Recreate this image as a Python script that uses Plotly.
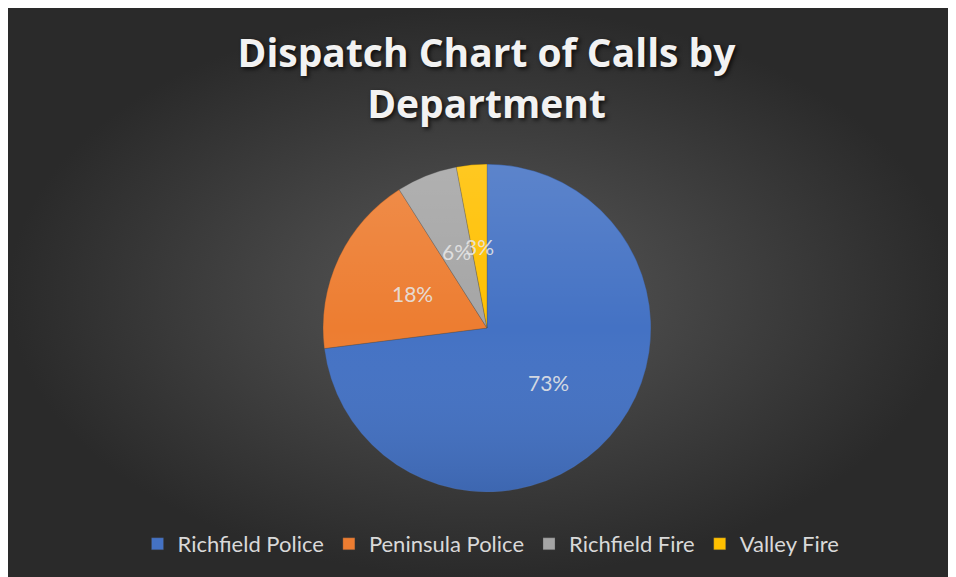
import math
import base64
import plotly.graph_objects as go

# ---- data ----
departments = ["Richfield Police", "Peninsula Police", "Richfield Fire", "Valley Fire"]
calls = [73, 18, 6, 3]
slice_colors = ["#4472C4", "#ED7D31", "#A5A5A5", "#FFC000"]
title_text = "Dispatch Chart of Calls by<br>Department"

# ---- layout constants (pixels, figure coords; page adds an 8px body margin) ----
W, H = 948, 569
CX, CY, R = 479, 320, 164          # pie centre / radius in pixels
LABEL_R = 0.5                       # label radius as fraction of pie radius

fig = go.Figure()

# background radial gradient panel on helper axes (units = pie radius, origin = pie centre)
x0, x1 = (0 - CX) / R, (W - CX) / R
y0, y1 = (CY - H) / R, (CY - 0) / R
fig.add_trace(go.Scatter(
    x=[x0, x1, x1, x0, x0], y=[y0, y0, y1, y1, y0],
    mode="lines", line=dict(width=0), fill="toself",
    fillgradient=dict(type="radial", colorscale=[[0, "#585858"], [1, "#2a2a2a"]]),
    hoverinfo="skip", showlegend=False,
))

fig.add_trace(go.Pie(
    labels=departments, values=calls, sort=False, direction="clockwise", rotation=0,
    marker=dict(colors=slice_colors, line=dict(color="rgba(70,70,70,0.5)", width=0.6)),
    textinfo="none", hoverinfo="label+percent",
    domain=dict(x=[(CX - R) / W, (CX + R) / W], y=[1 - (CY + R) / H, 1 - (CY - R) / H]),
))

# subtle vertical sheen over the pie (lighter at top, darker at bottom), like the original style
sheen_svg = (
    '<svg xmlns="http://www.w3.org/2000/svg" viewBox="0 0 100 100" preserveAspectRatio="none">'
    '<defs><linearGradient id="g" x1="0" y1="0" x2="0" y2="1">'
    '<stop offset="0" stop-color="#ffffff" stop-opacity="0.13"/>'
    '<stop offset="0.5" stop-color="#ffffff" stop-opacity="0.0"/>'
    '<stop offset="1" stop-color="#000000" stop-opacity="0.10"/>'
    '</linearGradient></defs>'
    '<circle cx="50" cy="50" r="49.8" fill="url(#g)"/></svg>'
)
fig.add_layout_image(
    source="data:image/svg+xml;base64," + base64.b64encode(sheen_svg.encode()).decode(),
    xref="x", yref="y", x=-1, y=1, sizex=2, sizey=2,
    xanchor="left", yanchor="top", sizing="stretch", layer="above",
)

# percentage labels placed at the slice mid-angles computed from the values
total = sum(calls)
cum = 0
for v in calls:
    mid = 2 * math.pi * (cum + v / 2) / total
    cum += v
    fig.add_annotation(
        x=LABEL_R * math.sin(mid), y=LABEL_R * math.cos(mid), xref="x", yref="y",
        text=f"{round(v / total * 100)}%", showarrow=False,
        font=dict(family="Lato", size=21, color="rgba(230,230,230,0.9)"),
    )

fig.update_layout(
    width=W, height=H, margin=dict(l=0, r=0, t=0, b=0),
    paper_bgcolor="#2a2a2a", plot_bgcolor="rgba(0,0,0,0)",
    xaxis=dict(range=[(0 - CX) / R, (W - CX) / R], visible=False, domain=[0, 1], fixedrange=True),
    yaxis=dict(range=[(CY - H) / R, CY / R], visible=False, domain=[0, 1], fixedrange=True),
    title=dict(
        text=title_text, x=478.5 / W, xanchor="center", xref="paper",
        y=1 - 59 / H, yref="container", yanchor="top",
        font=dict(family="Open Sans", size=39, weight="bold", color="#f2f2f2",
                  shadow="2px 2px 4px rgba(0,0,0,0.75)"),
    ),
    legend=dict(
        orientation="h", x=483 / W, xanchor="center", y=1 - 536 / H, yanchor="middle",
        font=dict(family="Lato", size=22, color="#d9d9d9"), bgcolor="rgba(0,0,0,0)",
        itemclick=False, itemdoubleclick=False,
    ),
)

fig.write_html("out.html")
